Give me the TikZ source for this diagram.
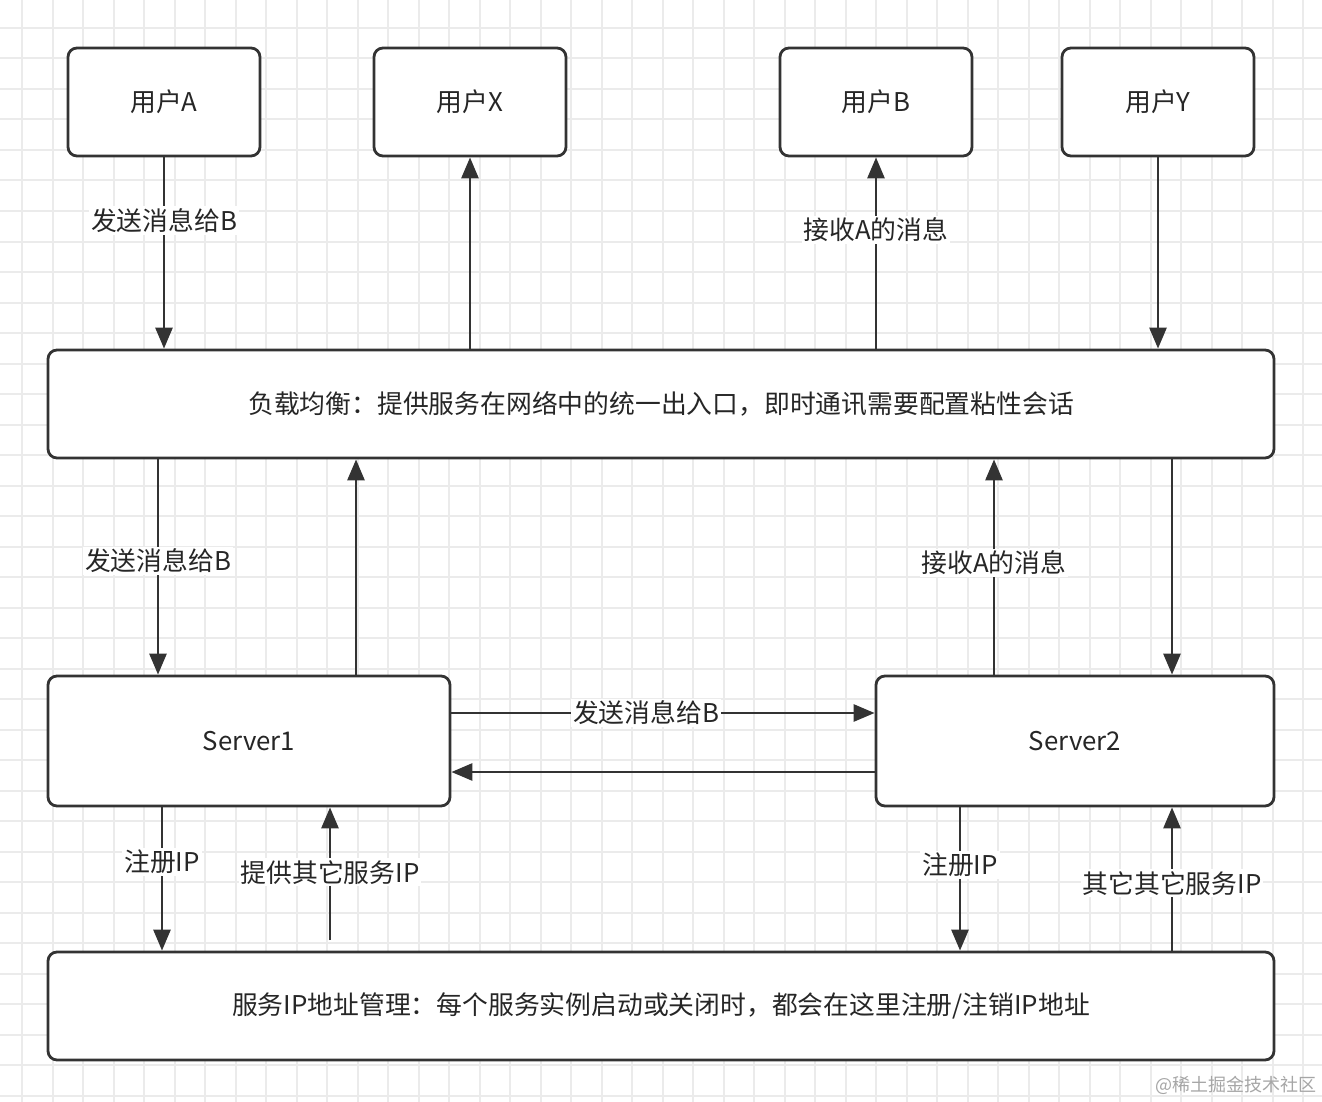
\documentclass[tikz,border=0pt]{standalone}
\usepackage{fontspec}
\setmainfont{Noto Sans CJK SC}
\usetikzlibrary{arrows.meta}

\definecolor{linec}{HTML}{333333}
\definecolor{gridc}{HTML}{EBEBEB}

\tikzset{
    box/.style={draw=linec, line width=2.8pt, rounded corners=9pt, fill=white,
        text=black!85, font=\fontsize{25.8}{30}\selectfont},
    userbox/.style={box, minimum width=192pt, minimum height=108pt},
    arr/.style={draw=linec, line width=2.8pt, -{Triangle[length=21pt,width=17pt]}},
    lbl/.style={fill=white, inner sep=2pt, text=black!85, font=\fontsize{25.8}{30}\selectfont}
}

\begin{document}
\begin{tikzpicture}[x=1pt, y=-1pt]
    \useasboundingbox (0,0) rectangle (1322,1102);
    \fill[white] (0,0) rectangle (1322,1102);

    % Draw background grid
    \foreach \k in {0,...,42}
        \draw[gridc, line width=2pt] (22+30.5*\k,0) -- ++(0,1102);
    \foreach \k in {0,...,35}
        \draw[gridc, line width=2pt] (0,28+30.5*\k) -- ++(1322,0);

    % Draw users
    \node[userbox] (ua) at (164,102) {用户A};
    \node[userbox] (ux) at (470,102) {用户X};
    \node[userbox] (ub) at (876,102) {用户B};
    \node[userbox] (uy) at (1158,102) {用户Y};

    % Load balancer
    \node[box, minimum width=1226pt, minimum height=108pt] (lb) at (661,404)
        {负载均衡：提供服务在网络中的统一出入口，即时通讯需要配置粘性会话};

    % Servers
    \node[box, minimum width=402pt, minimum height=130pt] (s1) at (249,741) {Server1};
    \node[box, minimum width=398pt, minimum height=130pt] (s2) at (1075,741) {Server2};

    % Registry
    \node[box, minimum width=1226pt, minimum height=108pt] (reg) at (661,1006)
        {服务IP地址管理：每个服务实例启动或关闭时，都会在这里注册/注销IP地址};

    % Users and load balancer
    \draw[arr] (ua.south) -- node[lbl, pos=0.33] {发送消息给B} (ua.south |- lb.north);
    \draw[arr] (ux.south |- lb.north) -- (ux.south);
    \draw[arr] (ub.south |- lb.north) -- node[lbl, pos=0.62] {接收A的消息} (ub.south);
    \draw[arr] (uy.south) -- (uy.south |- lb.north);

    % Load balancer and servers
    \draw[arr] ([xshift=-91pt]s1.north |- lb.south) -- node[lbl, pos=0.47] {发送消息给B} ([xshift=-91pt]s1.north);
    \draw[arr] ([xshift=107pt]s1.north) -- ([xshift=107pt]s1.north |- lb.south);
    \draw[arr] ([xshift=-81pt]s2.north) -- node[lbl, pos=0.52] {接收A的消息} ([xshift=-81pt]s2.north |- lb.south);
    \draw[arr] ([xshift=97pt]s2.north |- lb.south) -- ([xshift=97pt]s2.north);

    % Server to server
    \draw[arr] ([yshift=28pt]s1.east) -- node[lbl, pos=0.46] {发送消息给B} ([yshift=28pt]s2.west);
    \draw[arr] ([yshift=-31pt]s2.west) -- ([yshift=-31pt]s1.east);

    % Servers and registry
    \coordinate (p1) at (330,940);
    \draw[arr] ([xshift=-87pt]s1.south) -- node[lbl, pos=0.38] {注册IP} ([xshift=-87pt]s1.south |- reg.north);
    \draw[arr] (p1) -- node[lbl, pos=0.51] {提供其它服务IP} (p1 |- s1.south);
    \draw[arr] ([xshift=-115pt]s2.south) -- node[lbl, pos=0.4] {注册IP} ([xshift=-115pt]s2.south |- reg.north);
    \draw[arr] ([xshift=97pt]s2.south |- reg.north) -- node[lbl, pos=0.47] {其它其它服务IP} ([xshift=97pt]s2.south);

    % Watermark
    \node[text=black!35, font=\fontsize{18}{20}\selectfont, inner sep=0pt] (wm) at (1236,1085) {@稀土掘金技术社区};
\end{tikzpicture}
\end{document}
